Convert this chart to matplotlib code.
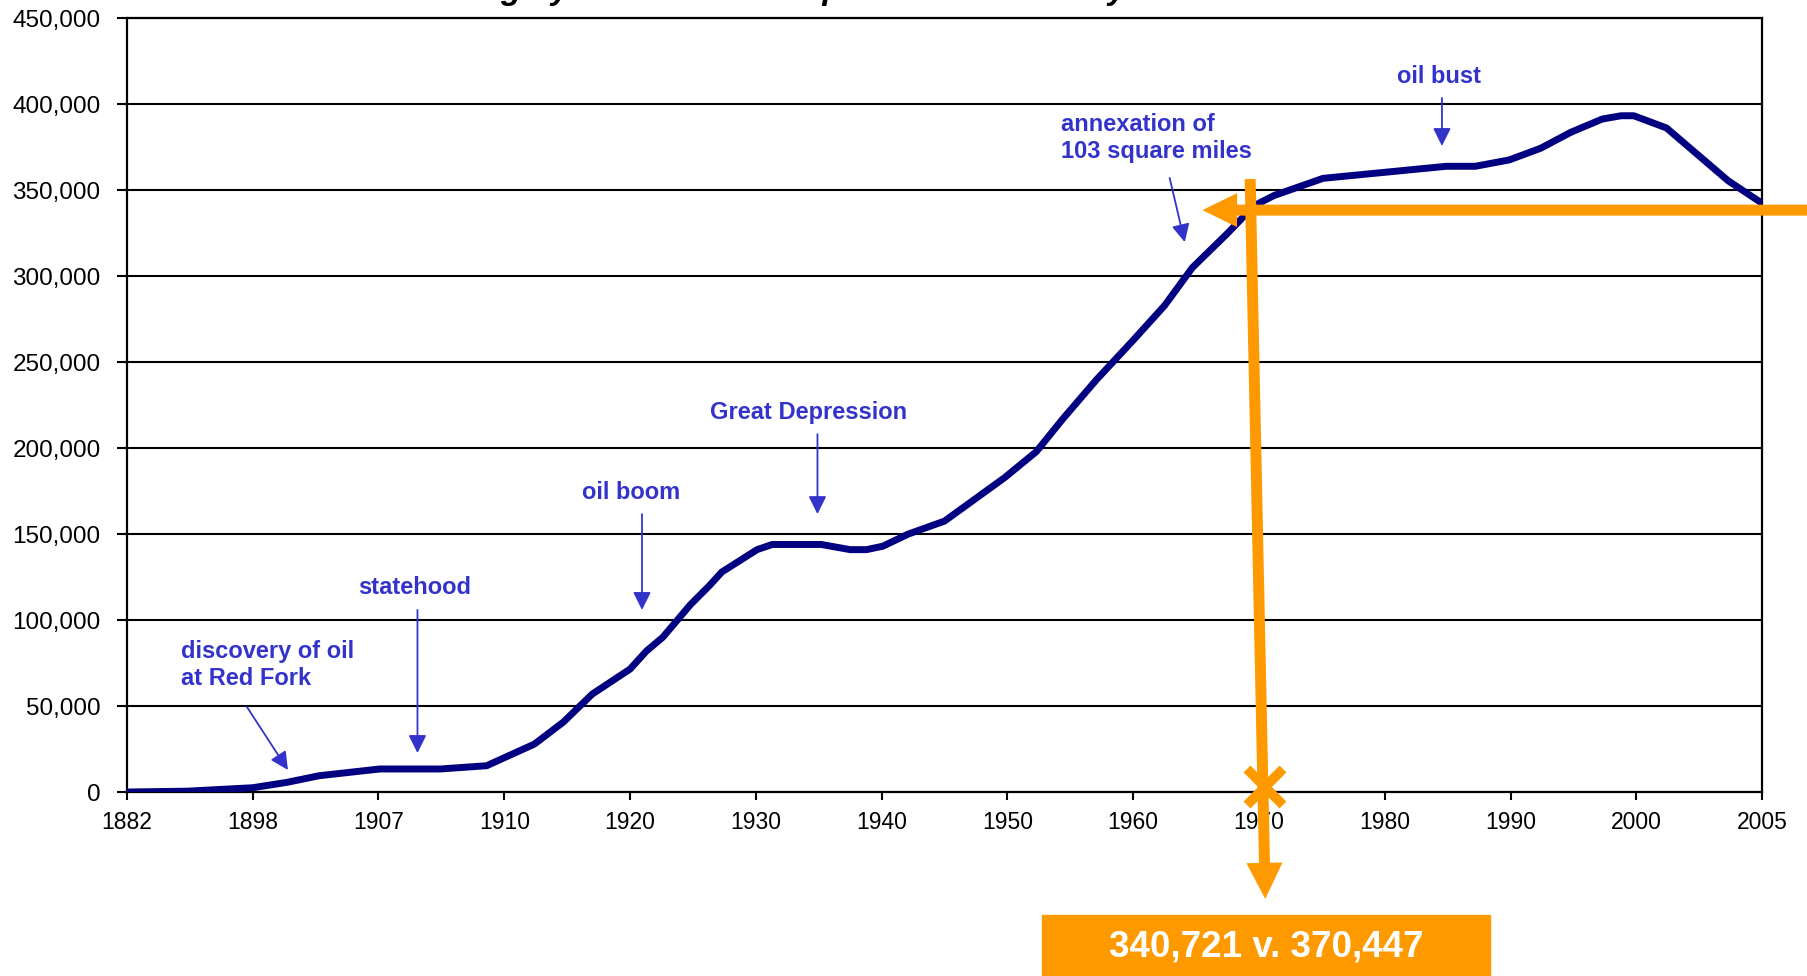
# Tulsa population by year, with event annotations
import numpy as np
import matplotlib.pyplot as plt
from matplotlib.patches import FancyArrowPatch, Rectangle
from matplotlib.ticker import FuncFormatter

plt.rcParams['font.family'] = ['Liberation Sans', 'DejaVu Sans']

# category labels on the x axis (equally spaced)
year_labels = ['1882', '1898', '1907', '1910', '1920', '1930', '1940',
               '1950', '1960', '1970', '1980', '1990', '2000', '2005']

# line vertices: position along the category axis and population
x_pos = [0, 0.48, 1.00, 1.27, 1.53, 2.01, 2.49, 2.86, 3.24, 3.47, 3.70,
         4.00, 4.13, 4.26, 4.48, 4.63, 4.73, 5.01, 5.13, 5.52, 5.75, 5.88,
         6.01, 6.21, 6.50, 6.98, 7.23, 7.44, 7.71, 7.99, 8.25, 8.47, 8.75,
         8.96, 9.12, 9.51, 10.49, 10.72, 10.99, 11.24, 11.48, 11.73, 11.88,
         11.98, 12.24, 12.73, 13.0]
population = [0, 500, 2500, 5600, 9500, 13400, 13400, 15300, 27900, 40700,
              57000, 71500, 82000, 90000, 109000, 120000, 128000, 141000,
              144000, 144000, 141000, 141000, 143000, 150000, 157600, 183000,
              198000, 217000, 240000, 262000, 283000, 305000, 325000, 341000,
              347000, 357000, 364000, 364000, 367700, 374500, 383800, 391500,
              393400, 393400, 386300, 355600, 342500]

# events: text, text position, arrow start, arrow tip, alignment
events = [
    ('discovery of oil\nat Red Fork', (0.43, 74000), (0.955, 49400), (1.28, 12800), 'left'),
    ('statehood', (2.29, 118700), (2.31, 105900), (2.31, 22700), 'center'),
    ('oil boom', (4.01, 174500), (4.095, 161700), (4.095, 105900), 'center'),
    ('Great Depression', (5.42, 221000), (5.49, 208200), (5.49, 161700), 'center'),
    ('annexation of\n103 square miles', (7.43, 380400), (8.29, 357200), (8.41, 319900), 'left'),
    ('oil bust', (10.43, 416500), (10.455, 403700), (10.455, 375800), 'center'),
]

estimate_text = '340,721 v. 370,447'
estimate_level = 338500

blue = '#3333CC'
orange = '#FF9900'

fig = plt.figure(figsize=(18.08, 9.76), dpi=100)
ax = fig.add_axes([0.0702, 0.1885, 0.9044, 0.7926])

ax.plot(x_pos, population, color='#000080', lw=5, solid_joinstyle='round',
        zorder=3)

ax.set_xlim(0, 13)
ax.set_ylim(0, 450000)
ax.set_xticks(np.arange(len(year_labels)))
ax.set_xticklabels(year_labels, fontsize=16.5)
ax.set_yticks(np.arange(0, 450001, 50000))
ax.yaxis.set_major_formatter(FuncFormatter(lambda v, p: f'{int(v):,}'))
ax.tick_params(axis='y', labelsize=17.5, length=7, width=1.5, pad=12,
               direction='out')
ax.tick_params(axis='x', length=6, width=1.5, pad=8, direction='out')
ax.grid(axis='y', color='black', lw=1.5, zorder=1)
for s in ax.spines.values():
    s.set_linewidth(1.6)
    s.set_color('black')

for label, txt_xy, start, tip, ha in events:
    ax.text(txt_xy[0], txt_xy[1], label, color=blue, fontsize=17,
            fontweight='bold', ha=ha, va='center', linespacing=1.2)
    ax.annotate('', xy=tip, xytext=start,
                arrowprops=dict(arrowstyle='-|>,head_length=0.6,head_width=0.3',
                                color=blue, lw=1.3, mutation_scale=18,
                                shrinkA=0, shrinkB=0))

# orange hand-drawn markup
h_arrow = FancyArrowPatch((13.4, estimate_level), (8.55, estimate_level),
                          arrowstyle='simple,head_length=25,head_width=24.5,tail_width=7.9',
                          mutation_scale=1, color=orange, lw=0,
                          shrinkA=0, shrinkB=0, clip_on=False, zorder=5)
ax.add_patch(h_arrow)
v_arrow = FancyArrowPatch((8.93, 356600), (9.05, -62200),
                          arrowstyle='simple,head_length=26,head_width=26,tail_width=7.9',
                          mutation_scale=1, color=orange, lw=0,
                          shrinkA=0, shrinkB=0, clip_on=False, zorder=5)
ax.add_patch(v_arrow)
ax.plot([9.05], [2900], marker='x', ms=26, mew=7, color=orange,
        clip_on=False, zorder=6)

fig.patches.append(Rectangle((0.5763, -0.01), 0.2478, 0.0725,
                             transform=fig.transFigure, color=orange, zorder=5))
fig.text(0.7002, 0.0297, estimate_text, color='white', fontsize=26.5,
         fontweight='bold', ha='center', va='center', zorder=6)

# title sits above the canvas, only its descenders show
fig.text(0.2135, 1.001, 'Growing by Annexation: Population Growth by Year',
         fontsize=24, fontweight='bold', fontstyle='italic', ha='left',
         va='baseline')

fig.savefig('out.png', dpi=100)
